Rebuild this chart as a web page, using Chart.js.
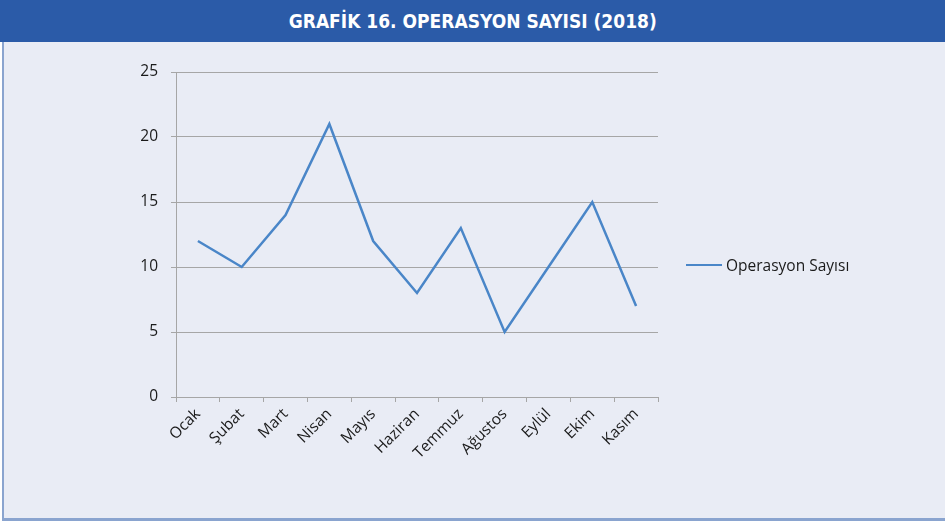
<!DOCTYPE html>
<html>
<head>
<meta charset="utf-8">
<script src="https://cdn.jsdelivr.net/npm/chart.js@4.4.1/dist/chart.umd.min.js"></script>
<style>
  body { margin: 0; width: 945px; height: 521px; background: #ffffff; overflow: hidden; font-family: "Open Sans", sans-serif; }
  #title {
    position: absolute; left: 0; top: 0; width: 945px; height: 42px;
    background: #2b5ba8; color: #ffffff; text-align: center;
    font-family: "DejaVu Sans Condensed", sans-serif;
    font-weight: bold; font-size: 20px; line-height: 42px;
  }
  #title span { display: inline-block; transform: scaleX(0.95); }
  #panel {
    position: absolute; left: 2px; top: 42px; width: 943px; height: 476px;
    background: #e9ecf5; border-left: 2px solid #8aa4cf; border-bottom: 3px solid #8aa4cf;
  }
  #wrap { position: absolute; left: 4px; top: 42px; width: 940px; height: 475px; }
  #legend {
    position: absolute; left: 686px; top: 254px; height: 22px;
    font-family: "Open Sans", sans-serif; font-size: 15.5px; color: #1a1a1a;
    display: flex; align-items: center;
  }
  #legend .swatch { width: 36px; height: 0; border-top: 2.5px solid #4a86c8; margin-right: 4px; }
</style>
</head>
<body>
<div id="title"><span>GRAFİK 16. OPERASYON SAYISI (2018)</span></div>
<div id="panel"></div>
<div id="wrap"><canvas id="myChart"></canvas></div>
<div id="legend"><span class="swatch"></span><span id="legendText"></span></div>
<script>
// aylar ve operasyon sayilari
var months = ['Ocak', 'Şubat', 'Mart', 'Nisan', 'Mayıs', 'Haziran', 'Temmuz', 'Ağustos', 'Eylül', 'Ekim', 'Kasım'];
var operasyonSayisi = [12, 10, 14, 21, 12, 8, 13, 5, 10, 15, 7];
var seriesLabel = 'Operasyon Sayısı';
var yTicks = [0, 5, 10, 15, 20, 25];

var lineColor = '#4a86c8';
var gridColor = '#a6a6a6';

document.getElementById('legendText').textContent = seriesLabel;

const ctx = document.getElementById('myChart').getContext('2d');
const chart = new Chart(ctx, {
    type: 'line',
    data: {
        labels: months,
        datasets: [{
            label: seriesLabel,
            data: operasyonSayisi,
            borderColor: lineColor,
            backgroundColor: lineColor,
            borderWidth: 2.5,
            pointRadius: 0,
            tension: 0
        }]
    },
    options: {
        responsive: true,
        maintainAspectRatio: false,
        animation: false,
        layout: {
            padding: { top: 30, left: 0, right: 286, bottom: 0 }
        },
        plugins: {
            legend: { display: false },
            tooltip: { enabled: false }
        },
        scales: {
            x: {
                offset: true,
                grid: {
                    offset: true,
                    drawOnChartArea: false,
                    drawTicks: true,
                    tickLength: 5,
                    color: gridColor
                },
                border: { color: gridColor, width: 1 },
                ticks: {
                    color: '#1a1a1a',
                    font: { family: 'Open Sans', size: 15.5 },
                    minRotation: 45,
                    maxRotation: 45,
                    padding: 3,
                    autoSkip: false
                },
                afterFit: function (scale) { scale.height = 120; }
            },
            y: {
                min: 0,
                max: 25,
                afterBuildTicks: function (scale) {
                    scale.ticks = yTicks.map(function (v) { return { value: v }; });
                },
                grid: {
                    color: gridColor,
                    tickLength: 5
                },
                border: { color: gridColor, width: 1 },
                ticks: {
                    color: '#1a1a1a',
                    font: { family: 'Open Sans', size: 15.5 },
                    padding: 13
                },
                afterFit: function (scale) { scale.width = 172; }
            }
        }
    }
});
</script>
</body>
</html>
